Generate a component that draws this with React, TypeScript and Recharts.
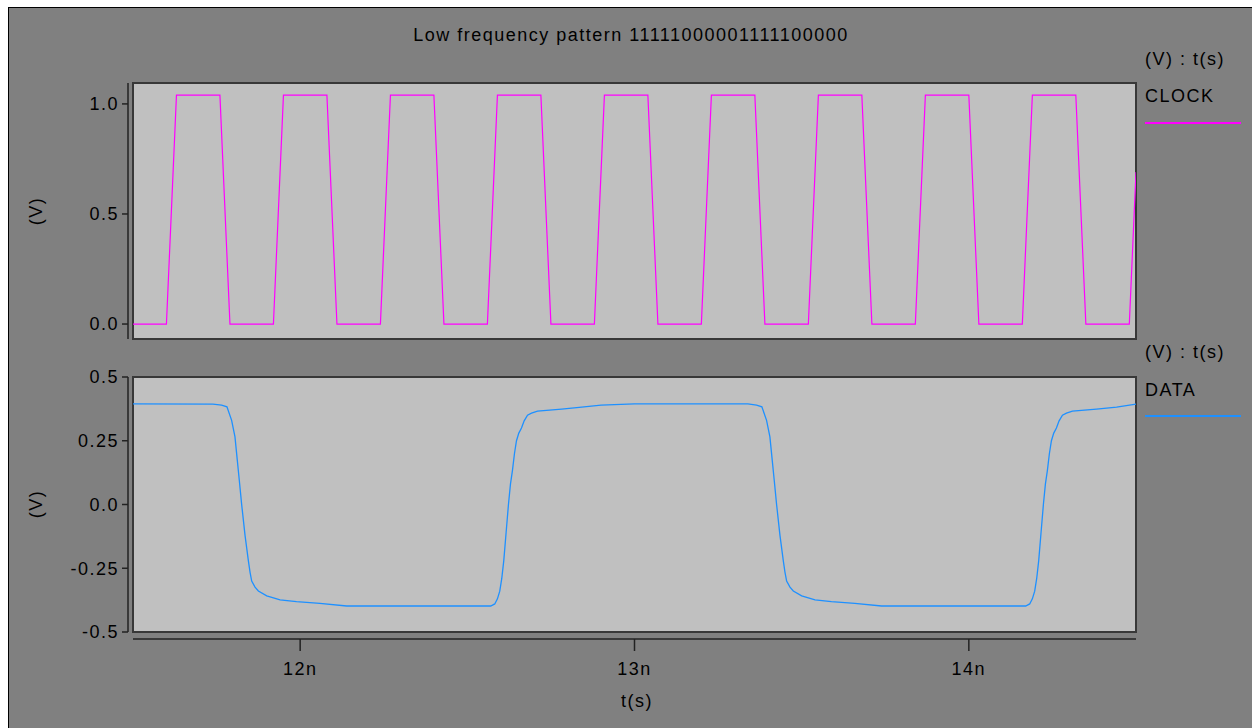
import { LineChart, Line, XAxis, YAxis, ReferenceArea } from "recharts";

// time in ns
const clockTime = [
  11.5, 11.6, 11.63, 11.76, 11.79, 11.92, 11.95, 12.08, 12.11, 12.24, 12.27, 12.4, 12.43,
  12.56, 12.59, 12.72, 12.75, 12.88, 12.91, 13.04, 13.07, 13.2, 13.23, 13.36, 13.39, 13.52,
  13.55, 13.68, 13.71, 13.84, 13.87, 14.0, 14.03, 14.16, 14.19, 14.32, 14.35, 14.48, 14.5,
];
const clockVolts = [
  0, 0, 1.04, 1.04, 0, 0, 1.04, 1.04, 0, 0, 1.04, 1.04, 0,
  0, 1.04, 1.04, 0, 0, 1.04, 1.04, 0, 0, 1.04, 1.04, 0, 0,
  1.04, 1.04, 0, 0, 1.04, 1.04, 0, 0, 1.04, 1.04, 0, 0, 0.69,
];

const dataTime = [
  11.5, 11.739, 11.765, 11.781, 11.795, 11.805, 11.812, 11.818, 11.825, 11.835, 11.845, 11.85,
  11.855, 11.865, 11.875, 11.9, 11.94, 11.989, 12.059, 12.139, 12.3, 12.57, 12.582, 12.59,
  12.597, 12.603, 12.609, 12.616, 12.623, 12.629, 12.635, 12.641, 12.647, 12.654, 12.662, 12.67,
  12.68, 12.692, 12.71, 12.782, 12.842, 12.9, 13.0, 13.339, 13.365, 13.381, 13.395, 13.405,
  13.412, 13.418, 13.425, 13.435, 13.445, 13.45, 13.455, 13.465, 13.475, 13.5, 13.54, 13.589,
  13.659, 13.739, 13.9, 14.17, 14.182, 14.19, 14.197, 14.203, 14.209, 14.216, 14.223, 14.229,
  14.235, 14.241, 14.247, 14.254, 14.262, 14.27, 14.28, 14.292, 14.31, 14.382, 14.442, 14.5,
];
const dataVolts = [
  0.395, 0.394, 0.39, 0.383, 0.33, 0.265, 0.173, 0.094, 0.0, -0.12, -0.22, -0.265,
  -0.3, -0.324, -0.339, -0.358, -0.374, -0.381, -0.388, -0.398, -0.398, -0.398, -0.39, -0.37,
  -0.34, -0.29, -0.22, -0.11, 0.0, 0.08, 0.134, 0.2, 0.25, 0.28, 0.3, 0.328,
  0.35, 0.358, 0.366, 0.374, 0.382, 0.39, 0.395, 0.395, 0.39, 0.383, 0.33, 0.265,
  0.173, 0.094, 0.0, -0.12, -0.22, -0.265, -0.3, -0.324, -0.339, -0.358, -0.374, -0.381,
  -0.388, -0.398, -0.398, -0.398, -0.39, -0.37, -0.34, -0.29, -0.22, -0.11, 0.0, 0.08,
  0.134, 0.2, 0.25, 0.28, 0.3, 0.328, 0.35, 0.358, 0.366, 0.374, 0.382, 0.394,
];

const timeTicks = [12, 13, 14];
const clockTicks = [0, 0.5, 1.0];
const dataTicks = [-0.5, -0.25, 0, 0.25, 0.5];

const clockRows = clockTime.map((t, i) => ({ t, v: clockVolts[i] }));
const dataRows = dataTime.map((t, i) => ({ t, v: dataVolts[i] }));

const FONT = '"Liberation Sans", Arial, sans-serif';
const tickStyle = { fill: "#000", fontSize: 18, fontFamily: FONT, letterSpacing: 1.5 };
const axisStroke = { stroke: "#222", strokeWidth: 1.5 };

const txt = (s: string, left: number, top: number, extra: any = {}) => (
  <div
    style={{
      position: "absolute", left, top, transform: "translateY(-50%)", fontSize: 18,
      lineHeight: "18px", letterSpacing: 1.5, whiteSpace: "nowrap", color: "#000",
      fontFamily: FONT, ...extra,
    }}
  >
    {s}
  </div>
);

export default function App() {
  return (
    <div style={{ position: "absolute", left: 0, top: 0, width: 1252, height: 728, background: "#fff" }}>
      <div
        style={{
          position: "absolute", left: 8, top: 7, width: 1244, height: 721, background: "#808080",
          borderLeft: "1px solid #000", borderTop: "1px solid #000",
        }}
      />

      <div style={{ position: "absolute", left: 0, top: 0 }}>
        <LineChart width={1252} height={728} data={clockRows} margin={{ top: 83, right: 116, left: 73, bottom: 389 }}>
          <XAxis dataKey="t" type="number" domain={[11.5, 14.5]} allowDataOverflow hide />
          <YAxis
            type="number"
            domain={[-0.068, 1.095]}
            allowDataOverflow
            ticks={clockTicks}
            width={60}
            tickSize={6}
            tickMargin={8}
            tickFormatter={(v: number) => v.toFixed(1)}
            tick={tickStyle}
            axisLine={{ ...axisStroke, transform: "translate(-5,0)" }}
            tickLine={{ ...axisStroke, transform: "translate(-5,0)" }}
          />
          <ReferenceArea x1={11.5} x2={14.5} y1={-0.068} y2={1.095} fill="#c0c0c0" fillOpacity={1} stroke="#383838" strokeWidth={2} />
          <Line type="linear" dataKey="v" stroke="#ff00ff" strokeWidth={1.2} dot={false} isAnimationActive={false} />
        </LineChart>
      </div>

      <div style={{ position: "absolute", left: 0, top: 0 }}>
        <LineChart width={1252} height={728} data={dataRows} margin={{ top: 377, right: 116, left: 73, bottom: 16 }}>
          <XAxis
            dataKey="t"
            type="number"
            domain={[11.5, 14.5]}
            allowDataOverflow
            ticks={timeTicks}
            height={80}
            tickSize={12}
            tickMargin={18}
            tickFormatter={(v: number) => `${v}n`}
            tick={tickStyle}
            axisLine={{ ...axisStroke, transform: "translate(0,7)" }}
            tickLine={{ ...axisStroke, transform: "translate(0,7)" }}
          />
          <YAxis
            type="number"
            domain={[-0.5, 0.5]}
            allowDataOverflow
            ticks={dataTicks}
            width={60}
            tickSize={6}
            tickMargin={8}
            tickFormatter={(v: number) => (v === 0 ? "0.0" : String(v))}
            tick={tickStyle}
            axisLine={{ ...axisStroke, transform: "translate(-5,0)" }}
            tickLine={{ ...axisStroke, transform: "translate(-5,0)" }}
          />
          <ReferenceArea x1={11.5} x2={14.5} y1={-0.5} y2={0.5} fill="#c0c0c0" fillOpacity={1} stroke="#383838" strokeWidth={2} />
          <Line type="linear" dataKey="v" stroke="#1e90ff" strokeWidth={1.3} dot={false} isAnimationActive={false} />
        </LineChart>
      </div>

      {txt("Low frequency pattern 11111000001111100000", 631, 35, { transform: "translate(-50%,-50%)" })}
      {txt("(V)", 36, 211, { transform: "translate(-50%,-50%) rotate(-90deg)" })}
      {txt("(V)", 36, 504, { transform: "translate(-50%,-50%) rotate(-90deg)" })}
      {txt("t(s)", 637, 701, { transform: "translate(-50%,-50%)" })}

      {txt("(V) : t(s)", 1145, 59)}
      {txt("CLOCK", 1145, 96)}
      <div style={{ position: "absolute", left: 1145, top: 122, width: 96, height: 1.5, background: "#ff00ff" }} />

      {txt("(V) : t(s)", 1145, 352)}
      {txt("DATA", 1145, 390)}
      <div style={{ position: "absolute", left: 1145, top: 415, width: 96, height: 1.5, background: "#1e90ff" }} />
    </div>
  );
}
